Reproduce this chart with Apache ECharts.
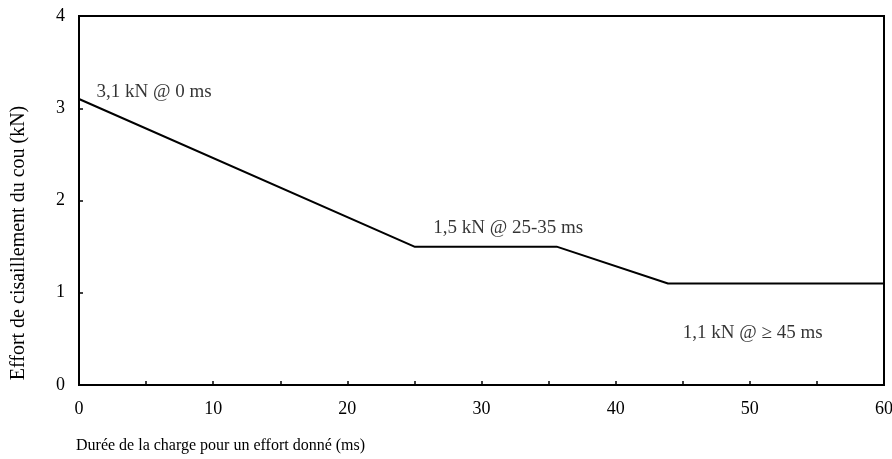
<!DOCTYPE html>
<html>
<head>
<meta charset="utf-8">
<script src="https://cdn.jsdelivr.net/npm/echarts@6/dist/echarts.min.js"></script>
<style>
  html, body { margin: 0; padding: 0; background: #fff; }
  #chart { width: 892px; height: 459px; }
</style>
</head>
<body>
<div id="chart"></div>
<script>
  // durée (ms) et effort (kN)
  var durees = [0, 25, 35.6, 43.9, 60];
  var efforts = [3.1, 1.5, 1.5, 1.1, 1.1];

  // textes des annotations et leur point d'ancrage (ms, kN)
  var notesTexte = ['3,1 kN @ 0 ms', '1,5 kN @ 25-35 ms', '1,1 kN @ \u2265 45 ms'];
  var notesX = [1.3, 26.4, 45.0];
  var notesY = [3.18, 1.70, 0.56];

  var xTicks = [0, 10, 20, 30, 40, 50, 60];
  var yTicks = [0, 1, 2, 3, 4];

  var police = 'Liberation Serif';
  var chart = echarts.init(document.getElementById('chart'));

  var ligne = durees.map(function (d, i) { return [d, efforts[i]]; });
  var notes = notesTexte.map(function (t, i) { return { value: [notesX[i], notesY[i]], name: t }; });

  chart.setOption({
    animation: false,
    textStyle: { fontFamily: police, color: '#000' },
    // titre de l'axe des x, aligné à gauche sous le graphique
    title: {
      text: 'Durée de la charge pour un effort donné (ms)',
      left: 76, top: 438,
      padding: 0,
      textStyle: { fontFamily: police, fontSize: 16, fontWeight: 'normal', color: '#000' }
    },
    grid: {
      left: 79, right: 8, top: 16, bottom: 74,
      containLabel: false,
      outerBoundsMode: 'none',
      show: true, borderColor: '#000', borderWidth: 2
    },
    xAxis: {
      type: 'value',
      min: 0, max: 60, interval: 5,
      axisLine: { lineStyle: { color: '#000', width: 2 } },
      axisTick: { show: true, inside: true, length: 4, lineStyle: { color: '#000', width: 1.5 } },
      splitLine: { show: false },
      axisLabel: {
        fontFamily: police, fontSize: 18, color: '#000', margin: 15,
        formatter: function (v) { return xTicks.indexOf(v) >= 0 ? String(v) : ''; }
      }
    },
    yAxis: {
      type: 'value',
      min: 0, max: 4, interval: 1,
      name: 'Effort de cisaillement du cou (kN)',
      nameLocation: 'middle',
      nameGap: 50,
      nameTextStyle: { fontFamily: police, fontSize: 20, color: '#000', padding: [0, 85, 0, 0] },
      axisLine: { show: true, lineStyle: { color: '#000', width: 2 } },
      axisTick: { show: true, inside: true, length: 4, lineStyle: { color: '#000', width: 1.5 } },
      splitLine: { show: false },
      axisLabel: {
        fontFamily: police, fontSize: 18, color: '#000', margin: 14,
        formatter: function (v) { return yTicks.indexOf(v) >= 0 ? String(v) : ''; }
      }
    },
    series: [
      {
        type: 'line',
        data: ligne,
        symbol: 'none',
        lineStyle: { color: '#000', width: 2 }
      },
      {
        type: 'scatter',
        data: notes,
        symbolSize: 0,
        silent: true,
        label: {
          show: true,
          position: 'right',
          distance: 0,
          formatter: function (p) { return p.name; },
          fontFamily: police, fontSize: 19, color: '#000'
        }
      }
    ]
  });
</script>
</body>
</html>
